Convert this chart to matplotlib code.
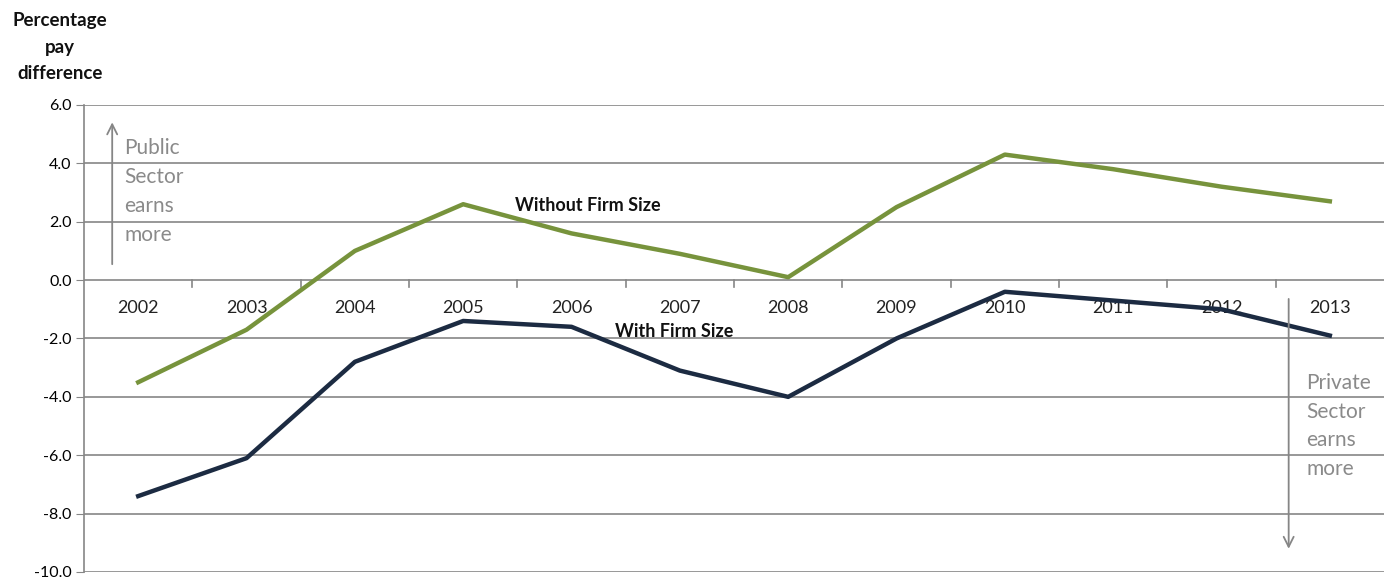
import numpy as np
import matplotlib.pyplot as plt

plt.rcParams['font.family'] = ['Lato', 'DejaVu Sans']

# data
years = ['2002', '2003', '2004', '2005', '2006', '2007',
         '2008', '2009', '2010', '2011', '2012', '2013']
without_firm_size = [-3.5, -1.7, 1.0, 2.6, 1.6, 0.9, 0.1, 2.5, 4.3, 3.8, 3.2, 2.7]
with_firm_size = [-7.4, -6.1, -2.8, -1.4, -1.6, -3.1, -4.0, -2.0, -0.4, -0.7, -1.0, -1.9]
yticks = [6, 4, 2, 0, -2, -4, -6, -8, -10]

green = '#77933c'
navy = '#1c2b42'
grey = '#868686'
txt = '#8a8a8a'

x = np.arange(len(years))

fig = plt.figure(figsize=(13.89, 5.79), dpi=100)
ax = fig.add_axes([0.0605, 0.0121, 0.9359, 0.8066])

for v in yticks:
    ax.axhline(v, color=grey, lw=1.2, zorder=1)

ax.plot(x, without_firm_size, color=green, lw=3.2, zorder=3)
ax.plot(x, with_firm_size, color=navy, lw=3.2, zorder=3)

ax.set_xlim(-0.5, len(years) - 0.5)
ax.set_ylim(-10, 6)
ax.set_yticks(yticks)
ax.set_yticklabels(['%.1f' % v for v in yticks])
ax.tick_params(axis='y', length=6, color=grey, labelsize=11.5, pad=3)
ax.set_xticks([])

for s in ['top', 'right', 'bottom']:
    ax.spines[s].set_visible(False)
ax.spines['left'].set_color(grey)
ax.spines['left'].set_linewidth(1.2)

# category tick marks on the zero line
for b in np.arange(0.5, len(years) - 0.5, 1):
    ax.plot([b, b], [0, -0.22], color=grey, lw=1.2, zorder=2, clip_on=False)

# year labels under the zero line
for i, yr in enumerate(years):
    ax.text(i, -0.95, yr, ha='center', va='center', fontsize=13, color='#222222', zorder=2)

ax.text(3.48, 2.55, 'Without Firm Size', fontsize=13, fontweight='bold',
        ha='left', va='center', color='#111111', zorder=4)
ax.text(4.4, -1.75, 'With Firm Size', fontsize=13, fontweight='bold',
        ha='left', va='center', color='#111111', zorder=4)

# direction arrows
ax.annotate('', xy=(-0.24, 5.5), xytext=(-0.24, 0.45),
            arrowprops=dict(arrowstyle='->', color=grey, lw=1.3, mutation_scale=18))
ax.annotate('', xy=(10.62, -9.3), xytext=(10.62, -0.55),
            arrowprops=dict(arrowstyle='->', color=grey, lw=1.3, mutation_scale=18))

ax.text(-0.13, 3.04, 'Public\nSector\nearns\nmore', fontsize=15, color=txt,
        ha='left', va='center', linespacing=1.55)
ax.text(10.78, -5.0, 'Private\nSector\nearns\nmore', fontsize=15, color=txt,
        ha='left', va='center', linespacing=1.55)

fig.text(60 / 1389, 1 - 47 / 579, 'Percentage\npay\ndifference', fontsize=13.5,
         fontweight='bold', ha='center', va='center', linespacing=1.69, color='#111111')

fig.savefig('out.png', dpi=100)
